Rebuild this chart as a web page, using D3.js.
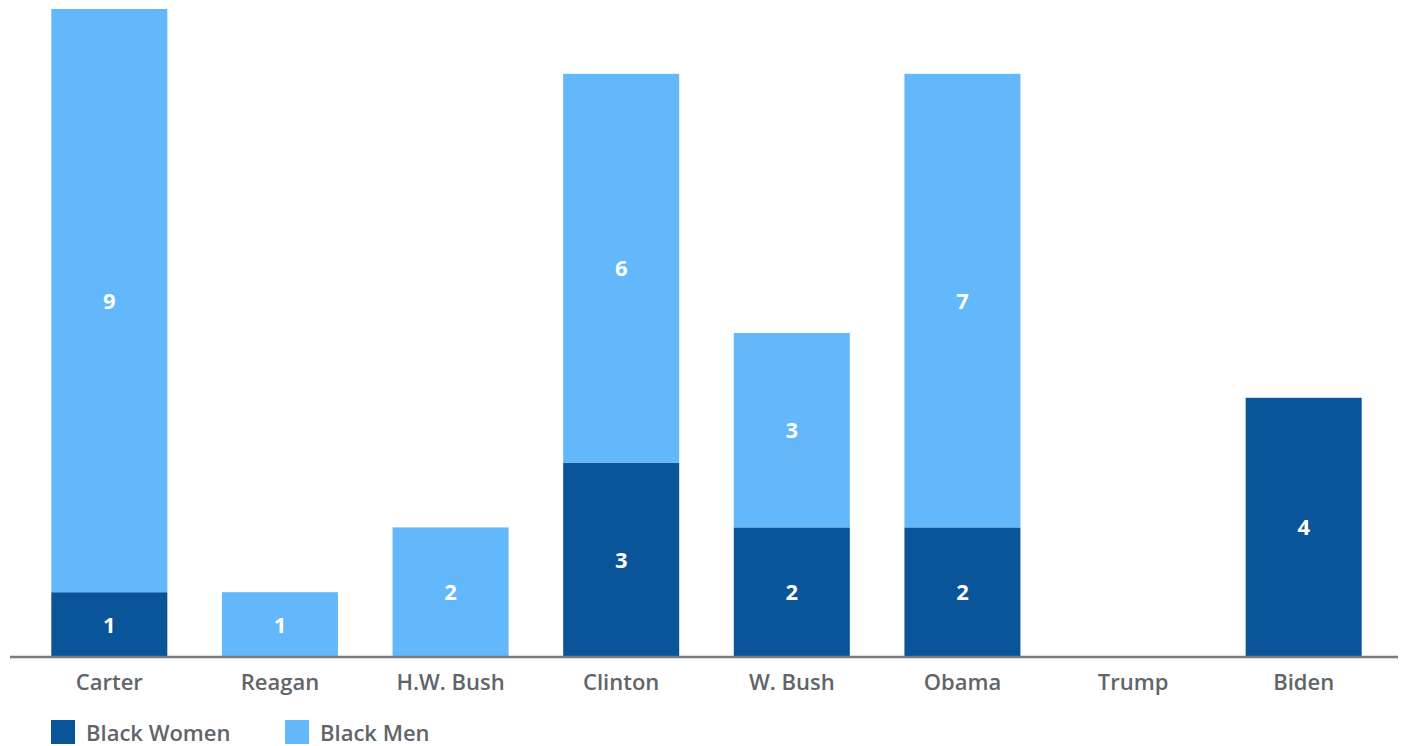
<!DOCTYPE html>
<html>
<head>
<meta charset="utf-8">
<script src="https://cdn.jsdelivr.net/npm/d3@7"></script>
<style>
  html, body { margin: 0; padding: 0; background: #fff; }
  svg { display: block; font-family: "Open Sans", "Noto Sans", sans-serif; }
</style>
</head>
<body>
<svg id="chart" width="1404" height="746"></svg>
<script>
// Judicial appointees by president
const presidents = ["Carter", "Reagan", "H.W. Bush", "Clinton", "W. Bush", "Obama", "Trump", "Biden"];
const blackWomen = [1, 0, 0, 3, 2, 2, 0, 4];
const blackMen   = [9, 1, 2, 6, 3, 7, 0, 0];
const seriesNames = ["Black Women", "Black Men"];
const seriesColors = ["#0A5499", "#62B8FA"];

const svg = d3.select("#chart");
const baseY = 657;

const x = d3.scaleBand()
  .domain(presidents)
  .range([24, 1389])
  .paddingInner(0.32)
  .paddingOuter(0.16);

const y = d3.scaleLinear()
  .domain([0, 10])
  .range([baseY, 9]);

const rows = presidents.map((p, i) => ({ president: p, "Black Women": blackWomen[i], "Black Men": blackMen[i] }));
const stacked = d3.stack().keys(seriesNames)(rows);

const layers = svg.append("g").selectAll("g")
  .data(stacked)
  .join("g")
  .attr("fill", (d, i) => seriesColors[i]);

layers.selectAll("rect")
  .data(d => d.filter(s => s[1] - s[0] > 0))
  .join("rect")
  .attr("x", d => x(d.data.president))
  .attr("width", x.bandwidth())
  .attr("y", d => y(d[1]))
  .attr("height", d => y(d[0]) - y(d[1]));

// value labels inside each segment
layers.selectAll("text")
  .data(d => d.filter(s => s[1] - s[0] > 0))
  .join("text")
  .attr("x", d => x(d.data.president) + x.bandwidth() / 2)
  .attr("y", d => (y(d[0]) + y(d[1])) / 2)
  .attr("dy", "0.36em")
  .attr("text-anchor", "middle")
  .attr("fill", "#ffffff")
  .attr("font-size", 22)
  .attr("font-weight", 700)
  .text(d => d[1] - d[0]);

// baseline axis
const axis = svg.append("g")
  .attr("transform", `translate(0,${baseY})`)
  .call(d3.axisBottom(x).tickSize(0).tickPadding(17));
axis.select(".domain").remove();
axis.append("line")
  .attr("x1", 10).attr("x2", 1398)
  .attr("stroke", "#7a7d80").attr("stroke-width", 2.5);
axis.selectAll(".tick text")
  .attr("font-family", "'Open Sans', 'Noto Sans', sans-serif")
  .attr("font-size", 22)
  .attr("font-weight", 600)
  .attr("fill", "#5F6569");

// legend
const legendX = [51, 285];
const legend = svg.append("g").selectAll("g")
  .data(seriesNames)
  .join("g")
  .attr("transform", (d, i) => `translate(${legendX[i]},720)`);
legend.append("rect")
  .attr("width", 24).attr("height", 24)
  .attr("fill", (d, i) => seriesColors[i]);
legend.append("text")
  .attr("x", 35).attr("y", 13)
  .attr("dy", "0.36em")
  .attr("font-size", 22)
  .attr("font-weight", 600)
  .attr("fill", "#5F6569")
  .text(d => d);
</script>
</body>
</html>
